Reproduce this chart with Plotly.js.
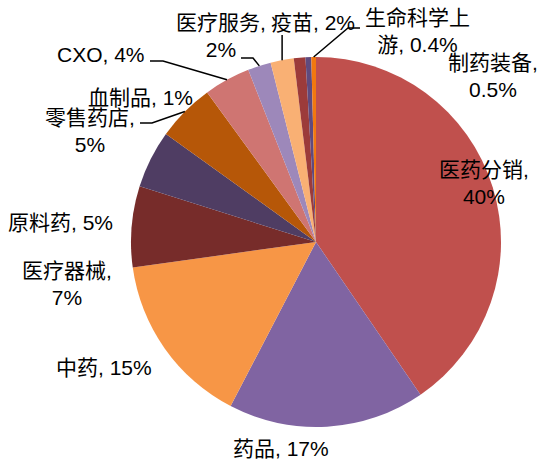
<!DOCTYPE html>
<html>
<head>
<meta charset="utf-8">
<script src="https://cdn.plot.ly/plotly-3.0.1.min.js"></script>
<style>html,body{margin:0;padding:0;background:#fff;}#chart{width:544px;height:461px;}</style>
</head>
<body>
<div id="chart"></div>
<script>
// Data (percent share)
const categories = ['医药分销', '药品', '中药', '医疗器械', '原料药', '零售药店', 'CXO', '医疗服务', '疫苗', '血制品', '制药装备', '生命科学上游'];
const values = [40, 17, 15, 7, 5, 5, 4, 2, 2, 1, 0.5, 0.4];
const colors = ['#C0504D', '#8064A2', '#F79646', '#772C2A', '#4F3D63', '#B65708', '#CF7572', '#9D88BA', '#F9B074', '#9C3B3A', '#5F4A7E', '#F2780F'];

const W = 544, H = 461;
const cx = 316, cy = 242, R = 185;
const px = x => x / W;
const py = y => 1 - y / H;

// Label placement (pixels): center x, center y, break line after comma
const labelPos = {
  '医药分销': [484, 183, true],
  '药品': [281, 448, false],
  '中药': [104, 367, false],
  '医疗器械': [67, 284, true],
  '原料药': [60, 222, false],
  '零售药店': [90, 131, true],
  'CXO': [101, 55, false],
  '医疗服务': [221, 36, true],
  '疫苗': [313, 22, false],
  '血制品': [140, 97, false],
  '制药装备': [493, 76, true],
  '生命科学上游': [417, 31, 'mid']
};

const font = {family: 'Liberation Sans, Arial, Noto Sans CJK SC, sans-serif', size: 21, color: '#000'};

const annotations = categories.map((c, i) => {
  const p = labelPos[c];
  let txt;
  if (p[2] === 'mid') txt = c.slice(0, 5) + '<br>' + c.slice(5) + ', ' + values[i] + '%';
  else if (p[2]) txt = c + ',<br>' + values[i] + '%';
  else txt = c + ', ' + values[i] + '%';
  return {x: px(p[0]), y: py(p[1]), xref: 'paper', yref: 'paper', text: txt, showarrow: false,
          xanchor: 'center', yanchor: 'middle', font: font, align: 'center', borderpad: 0};
});

// slice mid-angle tip on rim
const total = values.reduce((a, b) => a + b, 0);
function tip(name) {
  const i = categories.indexOf(name);
  let cum = 0;
  for (let k = 0; k < i; k++) cum += values[k];
  const a = (cum + values[i] / 2) / total * 2 * Math.PI;
  return [cx + R * Math.sin(a), cy - R * Math.cos(a)];
}
const leaders = [
  ['医疗服务', [[241, 58], [253, 58]]],
  ['疫苗', [['tip', 35]]],
  ['生命科学上游', [[360, 28], [348, 28]]],
  ['CXO', [[150, 61], [163, 61]]],
  ['零售药店', [[140, 123], [152, 123]]]
];
const shapes = leaders.map(([name, pts]) => {
  const t = tip(name);
  const all = pts.map(p => [p[0] === 'tip' ? t[0] : p[0], p[1]]).concat([t]);
  const d = all.map((p, k) => (k ? 'L' : 'M') + px(p[0]).toFixed(5) + ',' + py(p[1]).toFixed(5)).join(' ');
  return {type: 'path', xref: 'paper', yref: 'paper', path: d, line: {color: '#000', width: 1.5}};
});

const trace = {
  type: 'pie',
  labels: categories,
  values: values,
  sort: false,
  direction: 'clockwise',
  rotation: 0,
  textinfo: 'none',
  hoverinfo: 'label+percent',
  marker: {colors: colors, line: {width: 0}},
  domain: {x: [px(cx - R), px(cx + R)], y: [py(cy + R), py(cy - R)]},
  showlegend: false
};

Plotly.newPlot('chart', [trace], {
  width: W, height: H,
  margin: {l: 0, r: 0, t: 0, b: 0},
  paper_bgcolor: '#fff',
  showlegend: false,
  annotations: annotations,
  shapes: shapes
}, {displayModeBar: false, staticPlot: true});
</script>
</body>
</html>
